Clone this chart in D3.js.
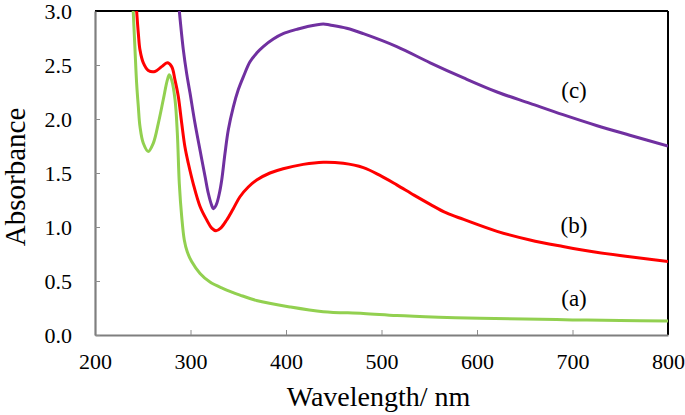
<!DOCTYPE html>
<html>
<head>
<meta charset="utf-8">
<script src="https://cdn.jsdelivr.net/npm/d3@7"></script>
<style>
  html, body { margin: 0; padding: 0; background: #fff; }
  svg { display: block; }
  svg text { font-family: "Liberation Serif", "Times New Roman", serif !important; fill: #000; }
</style>
</head>
<body>
<svg id="chart" width="685" height="415"></svg>
<script>
// ---- data ----
const xTicks = [200, 300, 400, 500, 600, 700, 800];
const yTicks = [0.0, 0.5, 1.0, 1.5, 2.0, 2.5, 3.0];
const seriesNames = ["(a)", "(b)", "(c)"];
const seriesColors = ["#92d050", "#ff0000", "#7030a0"];

const wlA = [240, 241.9, 243.6, 245.4, 247.1, 250.6, 255.8, 261, 266.3, 271.5, 275.7, 277.8, 280.3, 283.8, 286.2, 288.3, 290.8, 293.5, 296.6, 301.2, 310, 320.4, 334.3, 351.8, 369, 404, 439, 481, 516, 560, 603, 650, 700, 750, 800];
const absA = [3.0, 2.64, 2.33, 2.11, 1.93, 1.775, 1.70, 1.775, 1.96, 2.18, 2.36, 2.41, 2.36, 2.18, 1.87, 1.40, 1.095, 0.88, 0.77, 0.68, 0.57, 0.49, 0.43, 0.37, 0.32, 0.26, 0.216, 0.20, 0.18, 0.165, 0.155, 0.148, 0.14, 0.135, 0.13];

const wlB = [243.6, 245.4, 247.1, 250.6, 255.8, 262.8, 269.8, 275.7, 280.3, 283.8, 287.2, 290.8, 294.2, 297.7, 302.9, 310, 317, 322.2, 326.7, 331.6, 337.9, 344.8, 351.8, 360.5, 369.3, 383.2, 397, 418, 439, 460, 481, 498, 516, 534, 551, 568, 586, 621, 655.5, 690, 725, 760, 800];
const absB = [3.0, 2.79, 2.64, 2.52, 2.45, 2.44, 2.485, 2.52, 2.485, 2.36, 2.21, 1.96, 1.74, 1.59, 1.40, 1.19, 1.065, 0.99, 0.966, 0.99, 1.065, 1.17, 1.28, 1.37, 1.435, 1.50, 1.54, 1.58, 1.60, 1.59, 1.55, 1.48, 1.39, 1.295, 1.21, 1.13, 1.07, 0.96, 0.88, 0.82, 0.766, 0.725, 0.68];

const wlC = [288.3, 292.5, 296, 299.5, 304.7, 310, 315.2, 318.7, 322.2, 323.9, 326.7, 330.2, 332.7, 336.1, 339.6, 344.8, 350, 355.3, 362.3, 369.3, 376.2, 386.7, 397, 411.2, 421.7, 439, 446, 463.5, 481, 516, 551, 586, 621, 655.5, 690, 725, 760, 800];
const absC = [3.0, 2.64, 2.42, 2.24, 1.96, 1.71, 1.47, 1.31, 1.20, 1.17, 1.20, 1.31, 1.435, 1.68, 1.90, 2.11, 2.27, 2.39, 2.53, 2.61, 2.67, 2.74, 2.79, 2.83, 2.855, 2.88, 2.87, 2.84, 2.79, 2.67, 2.52, 2.38, 2.25, 2.145, 2.04, 1.94, 1.85, 1.75];

// ---- layout ----
const svg = d3.select("#chart");
const L = 95, R = 668, T = 11, B = 335;
const x = d3.scaleLinear().domain([200, 800]).range([L, R]);
const y = d3.scaleLinear().domain([0, 3]).range([B, T]);

// frame: top and right black
svg.append("line").attr("x1", L).attr("x2", R).attr("y1", T).attr("y2", T)
  .attr("stroke", "#000").attr("stroke-width", 2);
svg.append("line").attr("x1", R).attr("x2", R).attr("y1", T).attr("y2", B)
  .attr("stroke", "#000").attr("stroke-width", 2);

// clip
svg.append("clipPath").attr("id", "clip").append("rect")
  .attr("x", L).attr("y", T).attr("width", R - L).attr("height", B - T);

const line = d3.line().x(d => x(d[0])).y(d => y(d[1])).curve(d3.curveCatmullRom.alpha(0.5));
const series = [d3.zip(wlA, absA), d3.zip(wlB, absB), d3.zip(wlC, absC)];
const g = svg.append("g").attr("clip-path", "url(#clip)");
series.forEach((s, i) => {
  g.append("path").datum(s).attr("d", line)
    .attr("fill", "none").attr("stroke", seriesColors[i])
    .attr("stroke-width", 3).attr("stroke-linejoin", "round");
});

// axes
const xAxis = d3.axisBottom(x).tickValues(xTicks).tickFormat(d3.format("d"))
  .tickSizeInner(-5).tickSizeOuter(0).tickPadding(18);
const yAxis = d3.axisLeft(y).tickValues(yTicks).tickFormat(d3.format(".1f"))
  .tickSizeInner(-5).tickSizeOuter(0).tickPadding(23);

const gx = svg.append("g").attr("transform", `translate(0,${B})`).call(xAxis);
const gy = svg.append("g").attr("transform", `translate(${L},0)`).call(yAxis);
[gx, gy].forEach(ax => {
  ax.attr("font-family", null).attr("font-size", null);
  ax.select(".domain").attr("stroke", "#7f7f7f").attr("stroke-width", 2.2);
  ax.selectAll(".tick line").attr("stroke", "#8c8c8c").attr("stroke-width", 1);
  ax.selectAll(".tick text").style("font-size", "22px")
    .style("font-family", "'Liberation Serif', 'Times New Roman', serif").style("fill", "#000");
});
gy.selectAll(".tick").filter(d => d === 3.0).select("line").remove();
gx.selectAll(".tick").filter(d => d === 200 || d === 800).select("line").remove();

// axis titles
svg.append("text").attr("x", 378.5).attr("y", 406).attr("text-anchor", "middle")
  .style("font-size", "28px").text("Wavelength/ nm");
svg.append("text").attr("transform", "translate(25,177) rotate(-90)")
  .attr("text-anchor", "middle").style("font-size", "29px").text("Absorbance");

// series labels
const labelY = [306, 232.5, 97.5];
seriesNames.forEach((n, i) => {
  svg.append("text").attr("x", 574).attr("y", labelY[i]).attr("text-anchor", "middle")
    .style("font-size", "23px").text(n);
});
</script>
</body>
</html>
